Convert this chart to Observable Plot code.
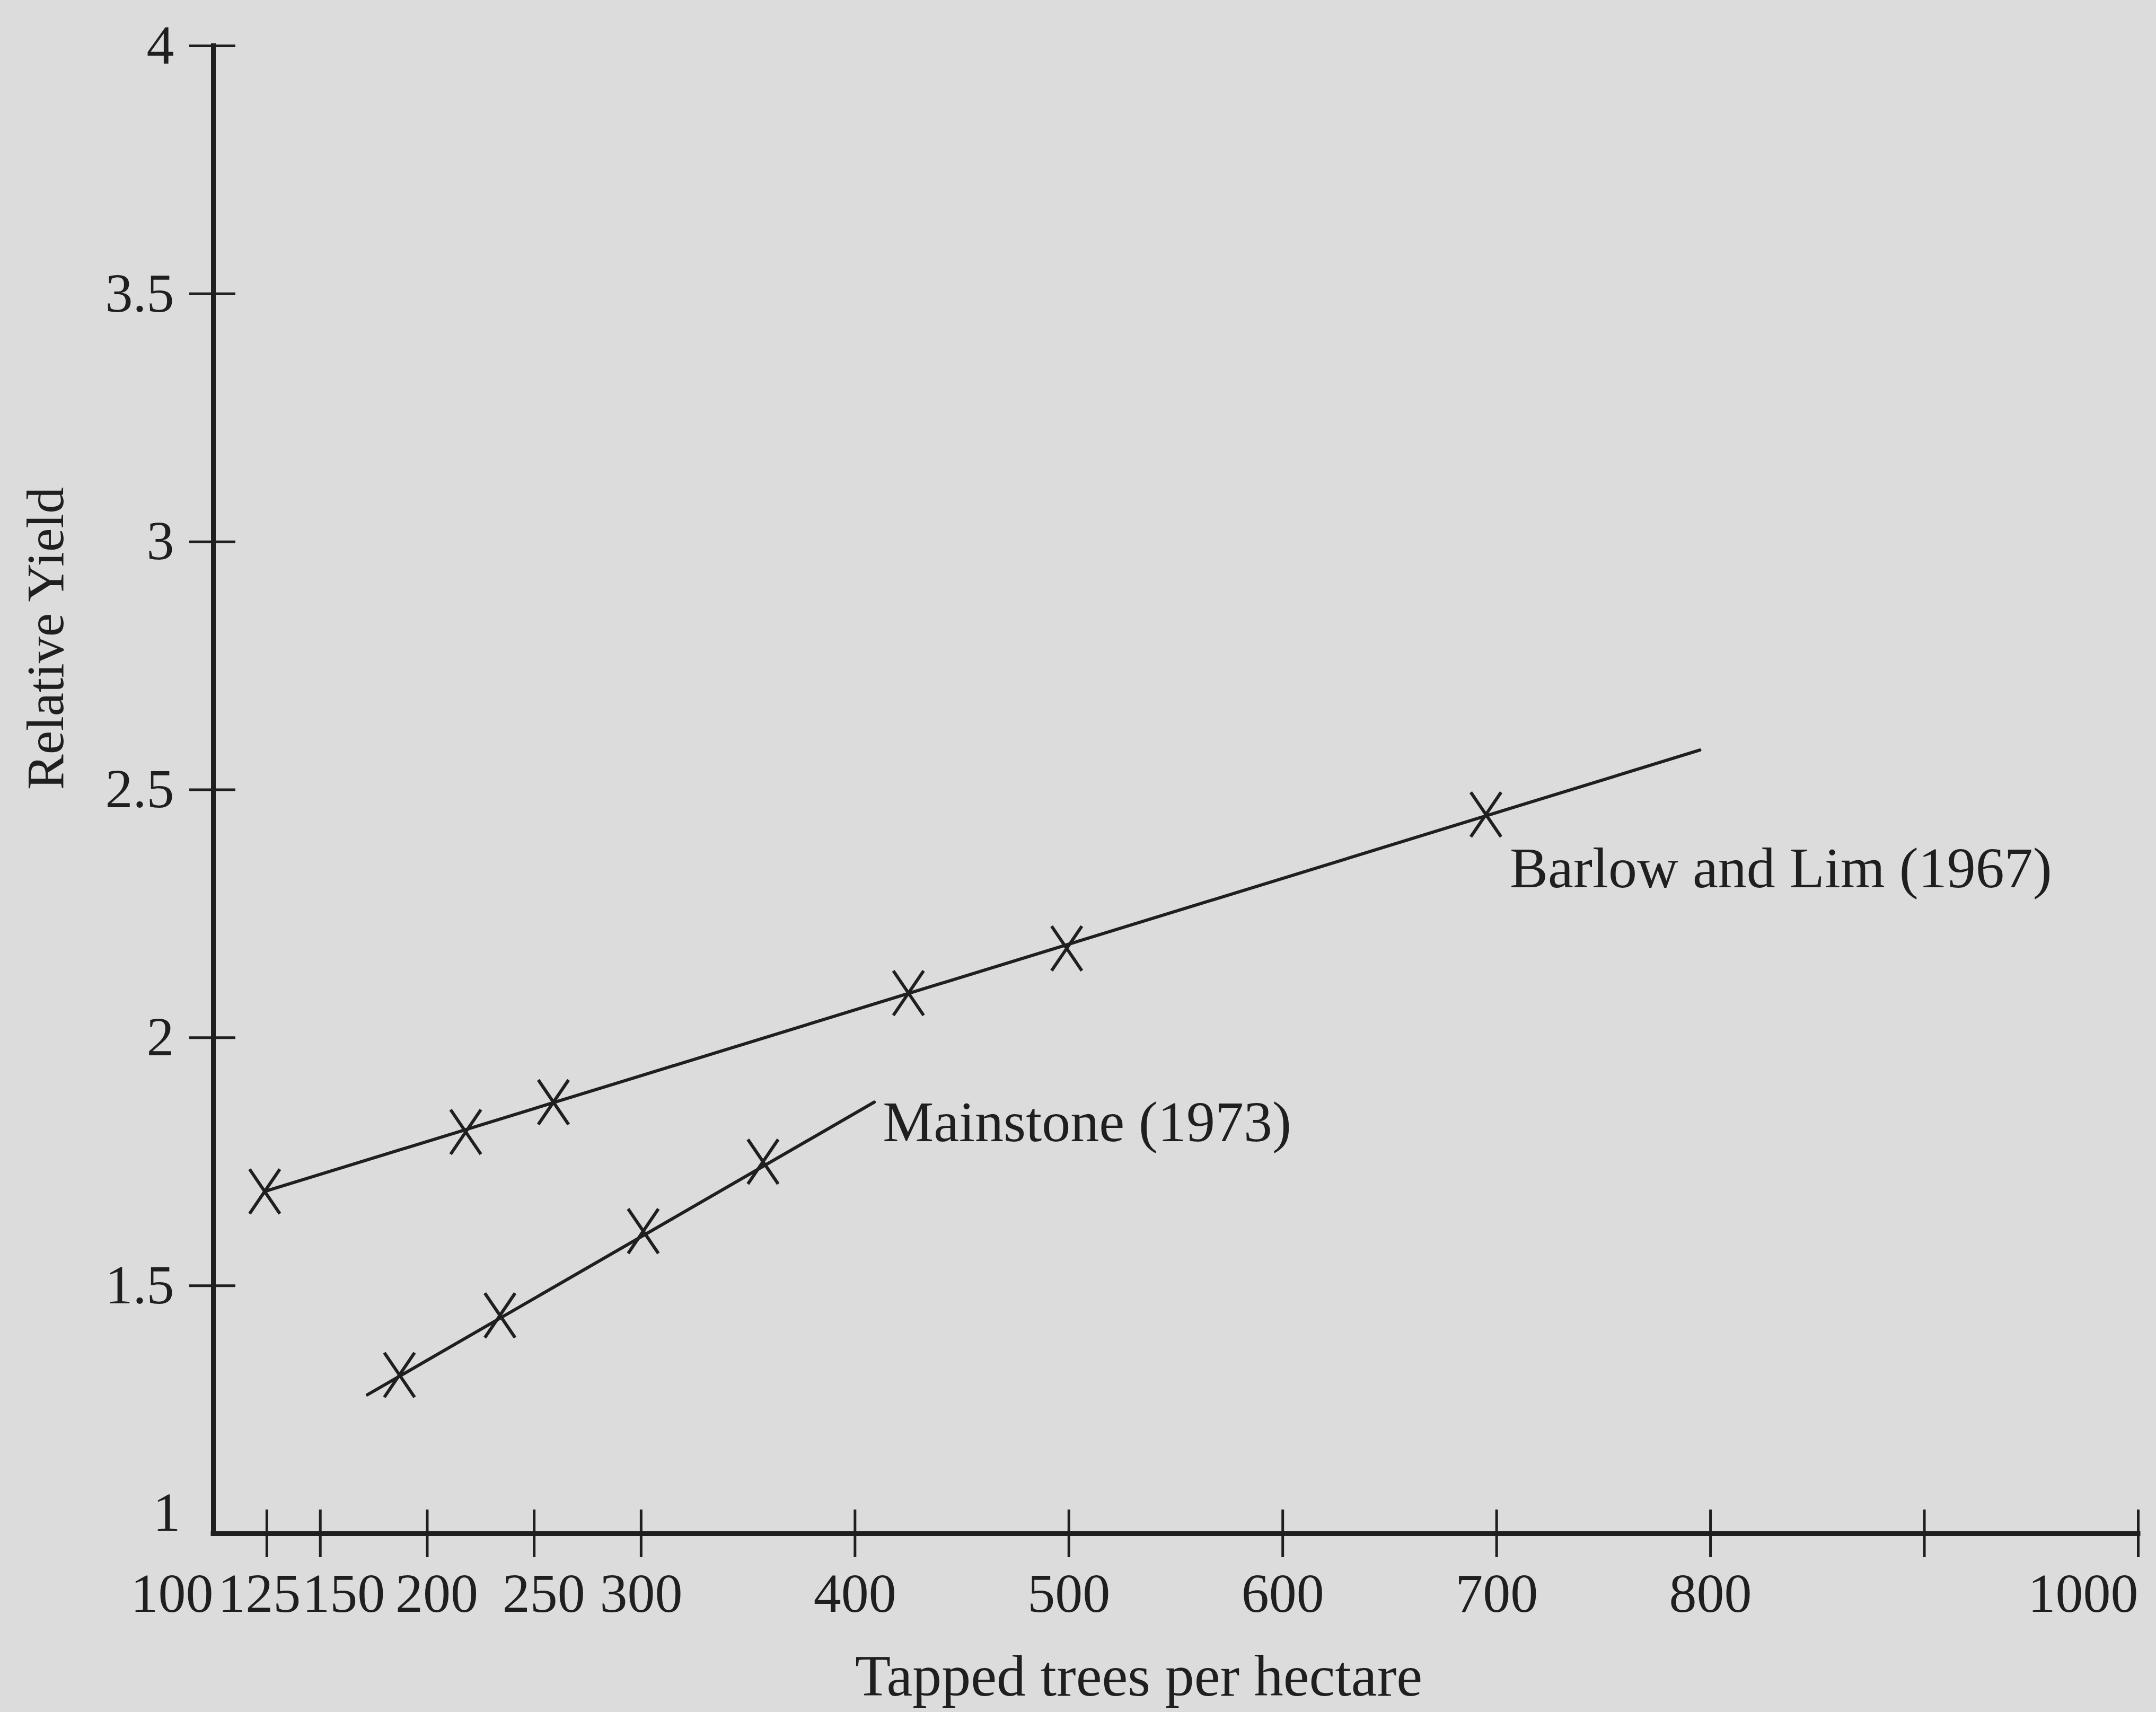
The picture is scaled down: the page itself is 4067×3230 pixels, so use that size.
<!DOCTYPE html>
<html>
<head>
<meta charset="utf-8">
<script src="https://cdn.jsdelivr.net/npm/d3@7"></script>
<script src="https://cdn.jsdelivr.net/npm/@observablehq/plot@0.6"></script>
<style>
  html, body { margin: 0; padding: 0; background: #dcdcdc; overflow: hidden; }
</style>
</head>
<body>
<div id="chart"></div>
<script>
// ---- data ----
const barlowDensity = [124, 218, 259, 425, 499, 695];
const barlowYield   = [1.69, 1.81, 1.87, 2.09, 2.18, 2.45];
const barlowFitDensity = [124, 795];
const barlowFitYield   = [1.69, 2.58];

const mainstoneDensity = [187, 234, 301, 357];
const mainstoneYield   = [1.32, 1.44, 1.61, 1.75];
const mainstoneFitDensity = [172, 409];
const mainstoneFitYield   = [1.28, 1.87];

const xDomain = [100, 1000];
const yDomain = [1, 4];
const xTickValues = [125, 150, 200, 250, 300, 400, 500, 600, 700, 800, 900, 1000];
const xLabelsEnd = [100, 1000];
const xLabelsPlain = [300, 400, 500, 600, 700, 800];
const xLabelsLeft = [125];
const xLabelsRight = [150];
const xLabelsSlight = [200, 250];
const yTickValues = [1.5, 2, 2.5, 3, 3.5, 4];
const yLabelsMid = [1.5, 2, 2.5, 3, 3.5, 4];
const yLabelsBase = [1];

const seriesNames = ["Barlow and Lim (1967)", "Mainstone (1973)"];
const xTitle = "Tapped trees per hectare";
const yTitle = "Relative Yield";

// ---- tables ----
const pts = (xs, ys) => xs.map((x, i) => ({x, y: ys[i]}));
const barlowPts = pts(barlowDensity, barlowYield);
const barlowFit = pts(barlowFitDensity, barlowFitYield);
const mainPts = pts(mainstoneDensity, mainstoneYield);
const mainFit = pts(mainstoneFitDensity, mainstoneFitYield);

const ink = "#1f1f1f";
const font = "Liberation Serif";

// tall, narrow "X" marker as drawn in the figure
const tallCross = {
  draw(context, size) {
    const r = Math.sqrt(size / Math.PI);
    const w = r * 0.68;
    context.moveTo(-w, -r); context.lineTo(w, r);
    context.moveTo(w, -r); context.lineTo(-w, r);
  }
};

const tickFont = 104;
const labelDy = 147;
const xLab = (vals, opts) => Plot.text(vals, {
  x: d => d, frameAnchor: "bottom", text: d => String(d),
  dy: labelDy, lineAnchor: "bottom", fontSize: tickFont, fill: ink, ...opts
});

const chart = Plot.plot({
  width: 4067,
  height: 3230,
  marginLeft: 402,
  marginRight: 34,
  marginTop: 86,
  marginBottom: 337,
  style: {background: "#dcdcdc", fontFamily: font, color: ink},
  x: {type: "linear", domain: xDomain, axis: null},
  y: {type: "linear", domain: yDomain, axis: null},
  marks: [
    // axis lines
    Plot.ruleX([xDomain[0]], {x: d => d, y1: yDomain[0], y2: yDomain[1], stroke: ink, strokeWidth: 9, strokeLinecap: "square"}),
    Plot.ruleY([yDomain[0]], {y: d => d, x1: xDomain[0], x2: xDomain[1], stroke: ink, strokeWidth: 9, strokeLinecap: "square"}),
    // crossing tick marks
    Plot.ruleX(xTickValues, {x: d => d, y1: yDomain[0], y2: yDomain[0], insetTop: 45, insetBottom: 45, stroke: ink, strokeWidth: 5}),
    Plot.ruleY(yTickValues, {y: d => d, x1: xDomain[0], x2: xDomain[0], insetLeft: -45, insetRight: -42, stroke: ink, strokeWidth: 5}),
    // tick labels
    xLab(xLabelsEnd, {textAnchor: "end"}),
    xLab(xLabelsPlain, {}),
    xLab(xLabelsLeft, {dx: -14}),
    xLab(xLabelsRight, {dx: 44}),
    xLab(xLabelsSlight, {dx: 18}),
    Plot.text(yLabelsMid, {y: d => d, frameAnchor: "left", text: d => String(d), textAnchor: "end", dx: -74, lineAnchor: "middle", fontSize: tickFont, fill: ink}),
    Plot.text(yLabelsBase, {y: d => d, frameAnchor: "left", text: d => String(d), textAnchor: "end", dx: -62, dy: -6, lineAnchor: "bottom", fontSize: tickFont, fill: ink}),
    // axis titles
    Plot.text([xTitle], {frameAnchor: "bottom", text: d => d, dx: -70, dy: 305, lineAnchor: "bottom", fontSize: 110, fill: ink}),
    Plot.text([yTitle], {frameAnchor: "left", text: d => d, rotate: -90, dx: -316, lineAnchor: "middle", fontSize: 100, fill: ink}),
    // series
    Plot.line(barlowFit, {x: "x", y: "y", stroke: ink, strokeWidth: 6}),
    Plot.line(mainFit, {x: "x", y: "y", stroke: ink, strokeWidth: 6}),
    Plot.dot(barlowPts, {x: "x", y: "y", r: 42, symbol: tallCross, fill: "none", stroke: ink, strokeWidth: 6}),
    Plot.dot(mainPts, {x: "x", y: "y", r: 42, symbol: tallCross, fill: "none", stroke: ink, strokeWidth: 6}),
    // series labels
    Plot.text([barlowPts[barlowPts.length - 1]], {x: "x", y: "y", text: () => seriesNames[0], textAnchor: "start", lineAnchor: "bottom", dx: 45, dy: 137, fontSize: 108, fill: ink}),
    Plot.text([mainFit[mainFit.length - 1]], {x: "x", y: "y", text: () => seriesNames[1], textAnchor: "start", lineAnchor: "bottom", dx: 16, dy: 74, fontSize: 108, fill: ink})
  ]
});
document.getElementById("chart").appendChild(chart);
</script>
</body>
</html>
